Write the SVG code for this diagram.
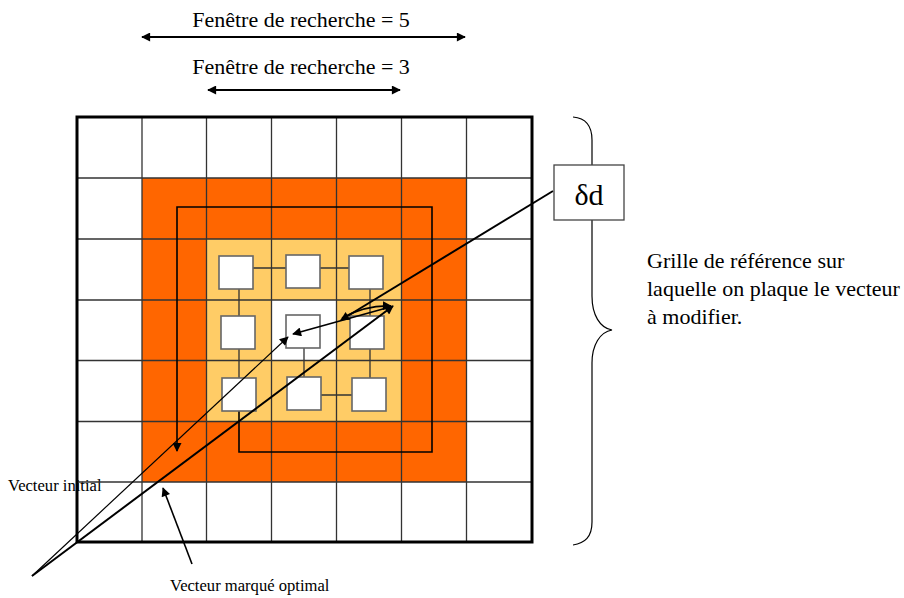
<svg xmlns="http://www.w3.org/2000/svg" width="904" height="598" viewBox="0 0 904 598">
<defs>
<style>
text{font-family:"Liberation Serif","Times New Roman","DejaVu Serif",serif;fill:#000}
.grid{stroke:#333;stroke-width:1.3;fill:none}
.box{fill:#fff;stroke:#666;stroke-width:1.6}
.link{stroke:#333;stroke-width:1.3;fill:none}
.vec{stroke:#000;fill:none}
</style>
<marker id="ah" viewBox="0 0 10 10" refX="9" refY="5" markerWidth="12" markerHeight="9" markerUnits="userSpaceOnUse" orient="auto-start-reverse">
<path d="M0,0 L10,5 L0,10 z" fill="#000"/>
</marker>
</defs>
<rect width="904" height="598" fill="#fff"/>

<g id="labels">
<text x="301" y="27" font-size="22" text-anchor="middle">Fenêtre de recherche = 5</text>
<text x="301" y="74" font-size="22" text-anchor="middle">Fenêtre de recherche = 3</text>
<text x="8" y="491" font-size="16.6">Vecteur initial</text>
<text x="170" y="591" font-size="16.6">Vecteur marqué optimal</text>
<text font-size="22"><tspan x="647" y="268">Grille de référence sur</tspan><tspan x="647" y="296">laquelle on plaque le vecteur</tspan><tspan x="647" y="324">à modifier.</tspan></text>
</g>

<g id="grid">
<rect x="142" y="178" width="324.5" height="304" fill="#FF6600"/>
<rect x="206.5" y="239" width="195" height="182.5" fill="#FFCC66"/>
<rect x="271.5" y="300" width="65" height="60.5" fill="#fff"/>
<path class="grid" d="M142,117V542M206.5,117V542M271.5,117V542M336.5,117V542M401.5,117V542M466.5,117V542M77,178H532M77,239H532M77,300H532M77,360.5H532M77,421.5H532M77,482H532"/>
<rect x="77" y="117" width="455" height="425" fill="none" stroke="#000" stroke-width="3"/>
</g>

<g id="connectors">
<path class="link" d="M253,268H286M320,268H349M239,289V316M239,349V378M370,289V316M370,349V378M304,348V377M321,395H352"/>
<path class="vec" stroke-width="1.6" d="M239,411V452H432V207H177V451" marker-end="url(#ah)"/>
<line class="vec" x1="192" y1="564" x2="163" y2="488" stroke-width="1.6" marker-end="url(#ah)"/>
<line class="vec" x1="142" y1="37" x2="465" y2="37" stroke-width="2" marker-start="url(#ah)" marker-end="url(#ah)"/>
<line class="vec" x1="208" y1="90" x2="400" y2="90" stroke-width="2" marker-start="url(#ah)" marker-end="url(#ah)"/>
<path class="vec" stroke-width="1.2" d="M573,117C585,118 592,125 592,140V296C592,315 600,328 612,330C600,332 592,345 592,363V522C592,537 585,543 573,545"/>
</g>

<g id="b1"><rect class="box" x="219" y="256" width="34" height="33"/></g>
<g id="b2"><rect class="box" x="286" y="255" width="34" height="33"/></g>
<g id="b3"><rect class="box" x="349" y="256" width="34" height="33"/></g>
<g id="b4"><rect class="box" x="221" y="316" width="34" height="33"/></g>
<g id="b5"><rect class="box" x="286" y="315" width="34" height="33"/></g>
<g id="b6"><rect class="box" x="350" y="316" width="34" height="33"/></g>
<g id="b7"><rect class="box" x="222" y="378" width="34" height="33"/></g>
<g id="b8"><rect class="box" x="287" y="377" width="34" height="33"/></g>
<g id="b9"><rect class="box" x="352" y="378" width="34" height="33"/></g>

<g id="vectors">
<line class="vec" x1="32" y1="576" x2="288" y2="337" stroke-width="1.2" marker-end="url(#ah)"/>
<line class="vec" x1="32" y1="576" x2="393" y2="306" stroke-width="2" marker-end="url(#ah)"/>
<line class="vec" x1="390" y1="307" x2="293" y2="334" stroke-width="1.8" marker-end="url(#ah)"/>
<path class="vec" stroke-width="1.8" d="M342,318Q366,305 391,306" marker-end="url(#ah)"/>
<line class="vec" x1="553" y1="191" x2="341" y2="320" stroke-width="2" marker-end="url(#ah)"/>
</g>

<g id="deltad">
<rect x="554" y="165" width="70" height="55" fill="#fff" stroke="#444" stroke-width="1.3"/>
<text x="589" y="205" font-size="30" text-anchor="middle">δd</text>
</g>
</svg>
